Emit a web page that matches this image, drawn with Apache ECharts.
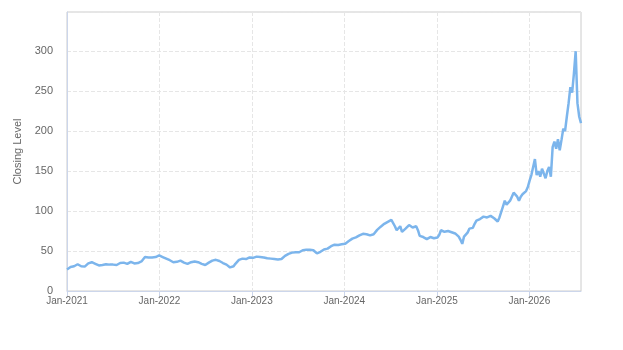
<!DOCTYPE html>
<html>
<head>
<meta charset="utf-8">
<script src="https://cdn.jsdelivr.net/npm/echarts@6/dist/echarts.min.js"></script>
<style>
  html, body { margin: 0; padding: 0; background: #fff; }
  #main { width: 623px; height: 350px; }
</style>
</head>
<body>
<div id="main"></div>
<script>
// weekly closing levels, one row per year, starting 2021-01-01
var startDate = "2021-01-01";
var values2021 = [27, 29, 30, 31.5, 31, 33, 33.5, 32, 31, 30, 30.5, 32.5, 34.5, 36.5, 36, 35, 34, 33, 32, 31.5,
  32.5, 33, 33.5, 33, 33, 33.5, 33, 32.5, 32.5, 33.5, 35, 36.5, 35.5, 34.5, 34, 35, 36.5, 35.5, 34.5, 34,
  35, 36.5, 37, 39, 42.5, 42.5, 42, 42.5, 42, 41.5, 42.5, 44];
var values2022 = [44.5, 45, 42.5, 41, 40.5, 40, 38.5, 37.5, 36, 35, 36.5, 39, 38, 37, 35.5, 34, 34, 35, 36, 35,
  37, 38, 36, 34.5, 34, 33, 32.5, 34, 35.5, 36, 38, 40, 39, 38, 37.5, 36, 35, 34, 33, 31.5,
  29.5, 28, 31, 34, 36.5, 39, 40, 40.5, 40, 40, 41, 42];
var values2023 = [41, 41.5, 42.5, 43, 43, 42.5, 42, 42, 41.5, 41, 41, 40.5, 40.5, 40, 39.5, 39.5, 39, 40, 42, 44,
  46, 46.5, 47.5, 48, 48.5, 48.5, 49, 48.5, 49.5, 51, 52.5, 51.5, 51, 51.5, 52, 51, 48.5, 47, 47.5, 49,
  50, 52, 52.5, 53, 54.5, 56, 57, 58, 58.5, 57.5, 59, 58.5];
var values2024 = [57.5, 59, 61, 62.5, 64, 65.5, 66.5, 67, 67.5, 69.5, 71, 71.5, 71.5, 71, 70.5, 69.5, 69, 71, 73.5, 76.5,
  79, 80.5, 82, 84, 85, 86.5, 88, 89, 86.5, 81, 76, 78, 81, 74, 76, 78, 80.5, 82.5, 81, 79.5,
  80, 81, 76, 69, 68, 67.5, 66, 65, 66, 67.5, 66.5, 66];
var values2025 = [66, 67, 70, 76, 75, 74, 76, 75, 74, 73.5, 72.5, 72, 70, 68, 64, 59, 68, 70, 73, 78,
  80, 79, 84, 88, 89, 90, 92, 93, 92, 92, 93, 94, 92, 91, 89, 87, 92, 99, 106, 113,
  108, 106, 113, 118, 123, 121, 118, 113, 118, 121, 123, 125];
var values2026 = [130, 138, 145, 155, 165, 145, 150, 143, 153, 147, 141, 150, 155, 143, 180, 187, 178, 190, 176, 189,
  203, 200, 218, 235, 255, 248, 272, 300, 235, 218, 210];
var yearTicks = ["2021-01-01", "2022-01-01", "2023-01-01", "2024-01-01", "2025-01-01", "2026-01-01"];
var monthNames = ["Jan", "Feb", "Mar", "Apr", "May", "Jun", "Jul", "Aug", "Sep", "Oct", "Nov", "Dec"];

var allValues = [].concat(values2021, values2022, values2023, values2024, values2025, values2026);
var t0 = Date.parse(startDate + "T00:00:00Z");
var week = 7 * 24 * 3600 * 1000;
var seriesData = allValues.map(function (v, i) {
  return [t0 + i * week, v];
});
var tickTimes = yearTicks.map(function (d) { return Date.parse(d + "T00:00:00Z"); });
var font = "Liberation Sans, Arial, sans-serif";

var chart = echarts.init(document.getElementById("main"));
chart.setOption({
  animation: false,
  grid: {
    left: 67, right: 42, top: 12, bottom: 59,
    show: true, borderColor: "#cccccc", borderWidth: 1
  },
  xAxis: {
    type: "value",
    min: t0,
    max: seriesData[seriesData.length - 1][0],
    axisLine: { lineStyle: { color: "#ccd6eb" } },
    axisTick: { show: true, length: 5, customValues: tickTimes, lineStyle: { color: "#ccd6eb" } },
    axisLabel: {
      customValues: tickTimes,
      color: "#666666",
      fontSize: 10,
      fontFamily: font,
      margin: 5,
      formatter: function (val) {
        var d = new Date(val);
        return monthNames[d.getUTCMonth()] + "-" + d.getUTCFullYear();
      }
    },
    splitLine: { show: true, lineStyle: { color: "#e6e6e6", type: "dashed" } }
  },
  yAxis: {
    type: "value",
    min: 0,
    max: 349,
    interval: 50,
    name: "Closing Level",
    nameLocation: "middle",
    nameGap: 37,
    nameTextStyle: { color: "#666666", fontSize: 11, fontFamily: font },
    axisLine: { show: true, lineStyle: { color: "#ccd6eb" } },
    axisTick: { show: false },
    axisLabel: { color: "#666666", fontSize: 11, fontFamily: font, margin: 14, showMaxLabel: false },
    splitLine: { lineStyle: { color: "#e6e6e6", type: "dashed" } }
  },
  series: [{
    type: "line",
    data: seriesData,
    showSymbol: false,
    lineStyle: { color: "#7cb5ec", width: 2.5 },
    itemStyle: { color: "#7cb5ec" }
  }]
});
</script>
</body>
</html>
